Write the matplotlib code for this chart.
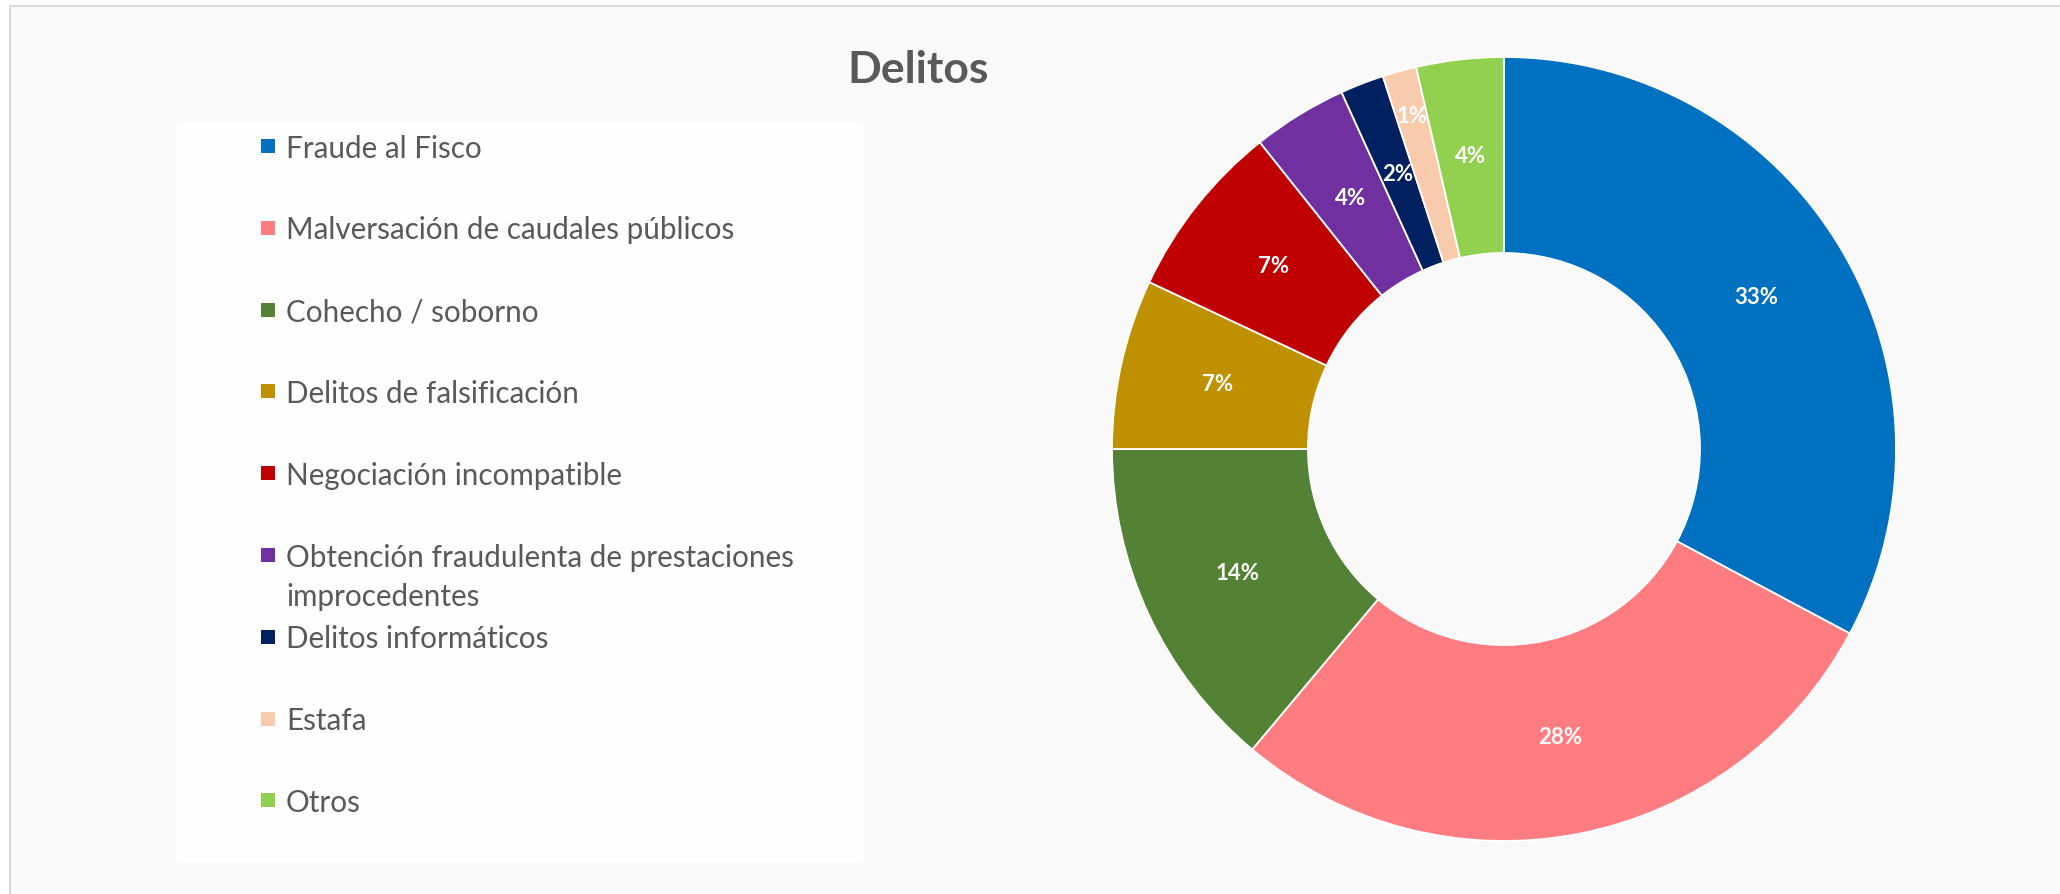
import matplotlib
matplotlib.use("Agg")
import matplotlib.pyplot as plt
from matplotlib.patches import Rectangle
import numpy as np

# ---- data ----
categories = [
    "Fraude al Fisco",
    "Malversación de caudales públicos",
    "Cohecho / soborno",
    "Delitos de falsificación",
    "Negociación incompatible",
    "Obtención fraudulenta de prestaciones\nimprocedentes",
    "Delitos informáticos",
    "Estafa",
    "Otros",
]
values = [32.8, 28.3, 13.9, 7.0, 7.3, 3.9, 1.8, 1.4, 3.6]
colors = ["#0070C0", "#FF7C80", "#548235", "#BF9000", "#C00000",
          "#7030A0", "#002060", "#F8CBAD", "#92D050"]
title = "Delitos"

W, H = 2060, 894
DPI = 100
FONT = ["Lato", "DejaVu Sans"]
TXT = "#595959"

plt.rcParams["font.family"] = FONT

fig = plt.figure(figsize=(W / DPI, H / DPI), dpi=DPI)
fig.patch.set_facecolor("white")

def fx(px):
    return px / W

def fy(py):
    return 1 - py / H

# chart area background with border on top/left
bg = Rectangle((fx(10), fy(H + 20)), fx(W + 20), (H + 14) / H,
               transform=fig.transFigure, facecolor="#F9F9F9",
               edgecolor="#D9D9D9", linewidth=1.5, zorder=0)
fig.add_artist(bg)

# legend box
lg = Rectangle((fx(177), fy(863)), fx(863 - 177), (863 - 122) / H,
               transform=fig.transFigure, facecolor="#FEFEFE",
               edgecolor="none", zorder=2)
fig.add_artist(lg)

# title
fig.text(fx(918), fy(70), title, ha="center", va="center",
         fontsize=32, fontweight="bold", color=TXT, zorder=5)

# ---- donut ----
cx, cy, R = 1504, 449, 392
ax = fig.add_axes([fx(cx - R), (H - cy - R) / H, fx(2 * R), 2 * R / H])
ax.set_zorder(4)
ax.patch.set_visible(False)

def fmt(p):
    return f"{round(p)}%"

wedges, _, autotexts = ax.pie(
    values, colors=colors, startangle=90, counterclock=False,
    radius=1.0, autopct=fmt, pctdistance=0.75,
    wedgeprops=dict(width=0.5, edgecolor="white", linewidth=1.3),
    textprops=dict(color="white", fontsize=16, fontweight="bold"),
)
ax.set_xlim(-1, 1)
ax.set_ylim(-1, 1)

# the tiny "Estafa" label was nudged outward in the original
label_r_override = {7: 0.88}
for i, r in label_r_override.items():
    w = wedges[i]
    th = np.deg2rad((w.theta1 + w.theta2) / 2)
    autotexts[i].set_position((r * np.cos(th), r * np.sin(th)))

# ---- legend (drawn manually to mimic spacing) ----
row0, pitch, line_h = 146, 81.8, 39.5
for i, (lab, col) in enumerate(zip(categories, colors)):
    yc = row0 + pitch * i
    fig.add_artist(Rectangle((fx(261), fy(yc + 7)), fx(14), 14 / H,
                             transform=fig.transFigure, facecolor=col,
                             edgecolor="none", zorder=5))
    for k, line in enumerate(lab.split("\n")):
        fig.text(fx(286), fy(yc + k * line_h), line, ha="left",
                 va="center_baseline", fontsize=21.3, color=TXT, zorder=5)

fig.savefig("out.png", dpi=DPI)
